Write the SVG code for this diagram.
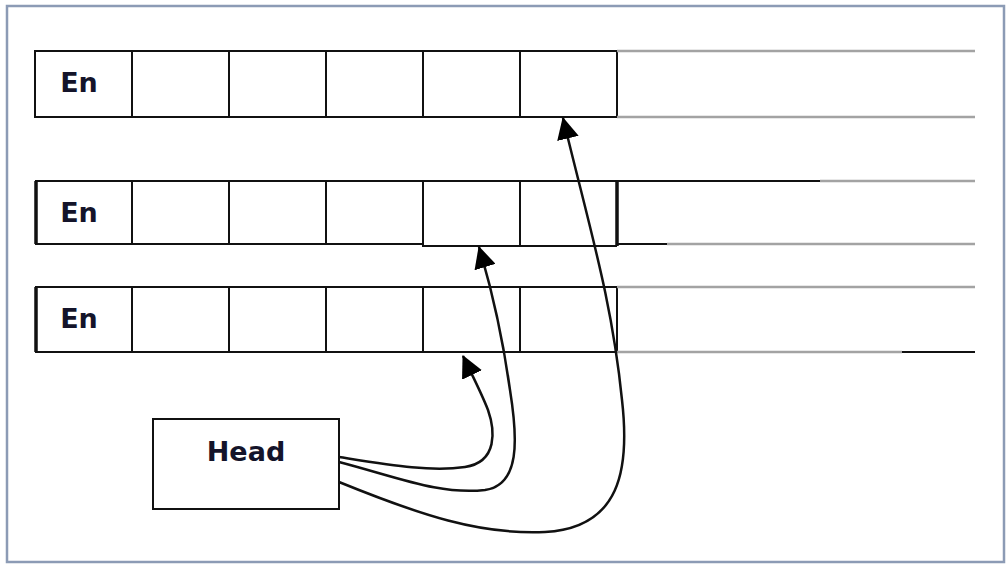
<svg xmlns="http://www.w3.org/2000/svg" width="1008" height="565" viewBox="0 0 1008 565">
<style>
.frame{fill:#fff;stroke:#8c9bb5;stroke-width:2.5}
.cell{fill:#fff;stroke:#111;stroke-width:2}
.blk{stroke:#111;stroke-width:2;fill:none}
.thk{stroke:#111;stroke-width:3.5;fill:none}
.gry{stroke:#a3a3a3;stroke-width:2.5;fill:none}
.lbl{font-family:"DejaVu Sans",Verdana,sans-serif;font-weight:bold;font-size:27px;fill:#14142a;text-anchor:middle}
.conn{fill:none;stroke:#111;stroke-width:2.5}
</style>
<defs>
<marker id="ah" markerUnits="userSpaceOnUse" markerWidth="22" markerHeight="22" viewBox="0 0 22 22" refX="21" refY="11" orient="auto">
<path d="M0,0 L22,11 L0,22 Z" fill="#000"/>
</marker>
</defs>
<rect class="frame" x="7" y="6" width="997" height="556"/>

<g id="row1">
<rect class="cell" x="35" y="51" width="582" height="66"/>
<path class="blk" d="M132,51V117M229,51V117M326,51V117M423,51V117M520,51V117"/>
<path class="gry" d="M617,51H975M617,117H975"/>
<text class="lbl" x="79" y="92">En</text>
</g>

<g id="row2">
<path class="blk" d="M35,181H617M35,244H423V246H617M132,181V244M229,181V244M326,181V244M423,181V246M520,181V246"/>
<path class="thk" d="M36,181V244M617,180V246"/>
<path class="blk" d="M617,181H820M617,244H667"/>
<path class="gry" d="M820,181H975M667,244H975"/>
<text class="lbl" x="79" y="222">En</text>
</g>

<g id="row3">
<path class="blk" d="M35,287H617M35,352H617M132,287V352M229,287V352M326,287V352M423,287V352M520,287V352M617,287V352"/>
<path class="thk" d="M36,287V352"/>
<path class="gry" d="M617,287H975M617,352H902"/>
<path class="blk" d="M902,352H975"/>
<text class="lbl" x="79" y="328">En</text>
</g>

<g id="head">
<rect class="cell" x="153" y="419" width="186" height="90"/>
<text class="lbl" x="246" y="461">Head</text>
</g>

<g id="connectors">
<path class="conn" marker-end="url(#ah)" d="M339,457 C390,465 430,472 465,467 C498,462 495,430 488,410 C481,392 472,375 463,356"/>
<path class="conn" marker-end="url(#ah)" d="M339,462 C400,478 440,495 485,490 C520,485 518,440 510,390 C503,340 492,290 479,247"/>
<path class="conn" marker-end="url(#ah)" d="M339,482 C420,515 480,535 545,532 C620,528 630,470 622,400 C612,300 590,230 563,118"/>
</g>
</svg>
